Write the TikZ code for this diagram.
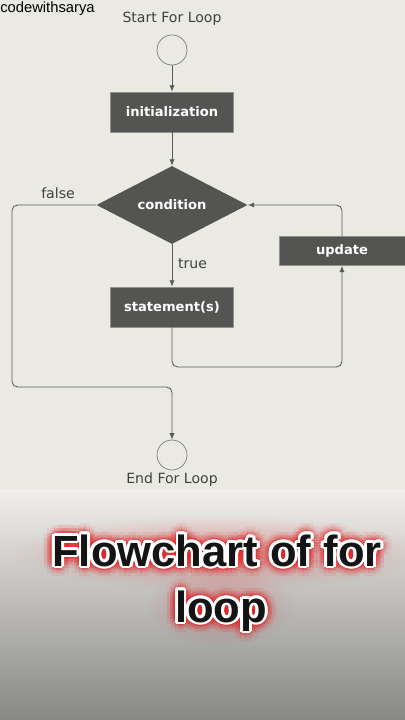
\documentclass[tikz,border=0pt]{standalone}
\usepackage{fontspec}
\setmainfont{DejaVu Sans}
\newfontfamily\markfont{Liberation Sans}
\newfontfamily\titlefont{Liberation Sans}
\usetikzlibrary{shapes.geometric,arrows.meta,fadings}

\definecolor{paper}{RGB}{234,234,227}
\definecolor{toppaper}{RGB}{241,239,235}
\definecolor{lowpaper}{RGB}{224,220,217}
\definecolor{floorgray}{RGB}{135,135,133}
\definecolor{boxgray}{RGB}{84,84,82}
\definecolor{linegray}{RGB}{90,90,90}
\definecolor{glowred}{RGB}{228,28,32}

\tikzfading[name=haze, inner color=transparent!0, outer color=transparent!100]

\tikzset{
    stepbox/.style={rectangle, fill=boxgray, draw=boxgray!60!paper, text=white,
        font=\bfseries\fontsize{9.3}{11}\selectfont, inner sep=0,
        minimum width=3.075cm, minimum height=1cm},
    testbox/.style={diamond, fill=boxgray, text=white,
        font=\bfseries\fontsize{9.3}{11}\selectfont, inner sep=0, aspect=1.94,
        minimum width=3.775cm, minimum height=1.95cm},
    endpoint/.style={circle, draw=linegray!80, fill=paper, line width=0.5pt, minimum size=0.75cm, inner sep=0},
    note/.style={text=black!75, font=\fontsize{10}{12}\selectfont, inner sep=0},
    flow/.style={draw=linegray, line width=0.6pt, rounded corners=4pt, -{Latex[length=1.6mm,width=1.3mm]}},
    glow/.style={text=glowred, font=\titlefont\bfseries\fontsize{31}{36}\selectfont, anchor=base, inner sep=0},
    rim/.style={text=white, font=\titlefont\bfseries\fontsize{31}{36}\selectfont, anchor=base, inner sep=0},
    headline/.style={text=black!92, font=\titlefont\bfseries\fontsize{31}{36}\selectfont, anchor=base, inner sep=0}
}

\begin{document}
\begin{tikzpicture}[x=0.025cm, y=-0.025cm]
        \useasboundingbox (0,0) rectangle (405,720);
        \fill[paper] (0,0) rectangle (405,490);
        \shade[top color=toppaper, middle color=lowpaper, bottom color=floorgray] (0,489) rectangle (405,720);

        \node[anchor=west, inner sep=0, font=\markfont\fontsize{10.5}{12}\selectfont] (mark) at (0,9) {codewithsarya};

        \node[note] (startlbl) at (172,19) {Start For Loop};
        \node[endpoint] (start) at (172,50) {};
        \node[stepbox] (init) at (172,112) {initialization};
        \node[testbox] (cond) at (172,205) {condition};
        \node[stepbox] (stmt) at (172,307) {statement(s)};
        \node[stepbox, minimum height=0.725cm, minimum width=3.15cm] (update) at (342,251) {update};
        \node[endpoint] (endc) at (172,455) {};
        \node[note] (endlbl) at (172,480) {End For Loop};
        \node[note] (falselbl) at (58,193) {false};

        \coordinate (leftrail) at (12,387);
        \coordinate (loopback) at (342,367);

        \draw[flow] (start) -- (init);
        \draw[flow] (init) -- (cond);
        \draw[flow] (cond) -- node[note, right=4pt, pos=0.45] (truelbl) {true} (stmt);
        \draw[flow] (cond.west) -| (leftrail) -| (endc.north);
        \draw[flow] (stmt.south) |- (loopback) -- (update.south);
        \draw[flow] (update.north) |- (cond.east);

        % soft red haze behind the title
        \fill[glowred, opacity=0.3, path fading=haze] (217,553) ellipse (205 and 38);
        \fill[glowred, opacity=0.25, path fading=haze] (221,606) ellipse (75 and 40);

        % red glow and white rim round the title
        \foreach \r/\o in {11/0.08, 7.5/0.12, 4.5/0.2} {
            \foreach \a in {0,30,...,330} {
                \node[glow, opacity=\o, shift={(\a+15*\r:\r)}] (glowa) at (217,566) {Flowchart of for};
                \node[glow, opacity=\o, shift={(\a+15*\r:\r)}] (glowb) at (221,622) {loop};
            }
        }
        \foreach \a in {0,22.5,...,337.5} {
            \node[rim, shift={(\a:2.8)}] (rima) at (217,566) {Flowchart of for};
            \node[rim, shift={(\a:2.8)}] (rimb) at (221,622) {loop};
        }
        \node[headline] (titlea) at (217,566) {Flowchart of for};
        \node[headline] (titleb) at (221,622) {loop};
\end{tikzpicture}
\end{document}
